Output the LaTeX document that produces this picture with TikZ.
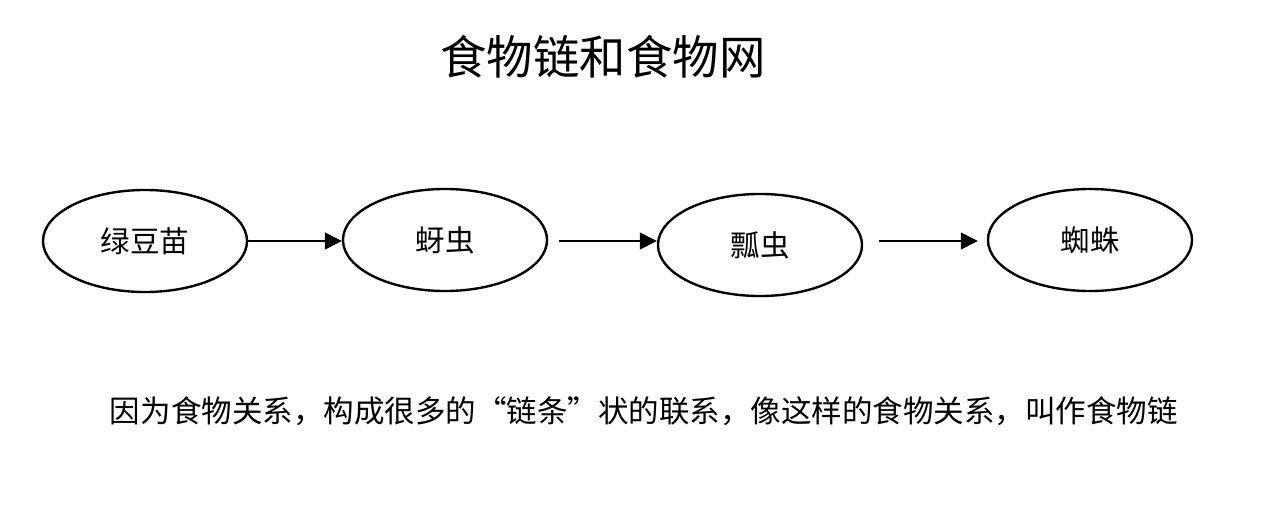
\documentclass[tikz,border=0pt]{standalone}
\usepackage{fontspec}
\setmainfont{Noto Sans CJK SC}
\usetikzlibrary{shapes.geometric,arrows.meta}
\tikzset{
    organism/.style={ellipse,draw,line width=1.7pt,minimum width=5.1cm,minimum height=2.55cm,inner sep=0pt,font=\fontsize{21}{25}\selectfont},
    eats/.style={->,line width=1pt}
}
\begin{document}
\begin{tikzpicture}[>={Triangle[length=12pt,width=12pt]},x=0.025cm,y=-0.025cm]
\useasboundingbox (0,0) rectangle (1285,507);
\node[font=\fontsize{33}{40}\selectfont](title) at (603,57){食物链和食物网};
% the chain
\node[organism](miao) at (145,241){绿豆苗};
\node[organism](yachong) at (445,240){蚜虫};
\node[organism](piaochong) at (760,245){瓢虫};
\node[organism](zhizhu) at (1090,240){蜘蛛};
\draw[eats](miao.east)--(miao.east -| yachong.west);
\draw[eats,shorten <=0.275cm](miao.east -| yachong.east)--(miao.east -| piaochong.west);
\draw[eats,shorten <=0.4cm,shorten >=0.225cm](miao.east -| piaochong.east)--(miao.east -| zhizhu.west);
\node[font=\fontsize{21.7}{26}\selectfont](note) at (644,411){因为食物关系，构成很多的“链条”状的联系，像这样的食物关系，叫作食物链};
\end{tikzpicture}
\end{document}
